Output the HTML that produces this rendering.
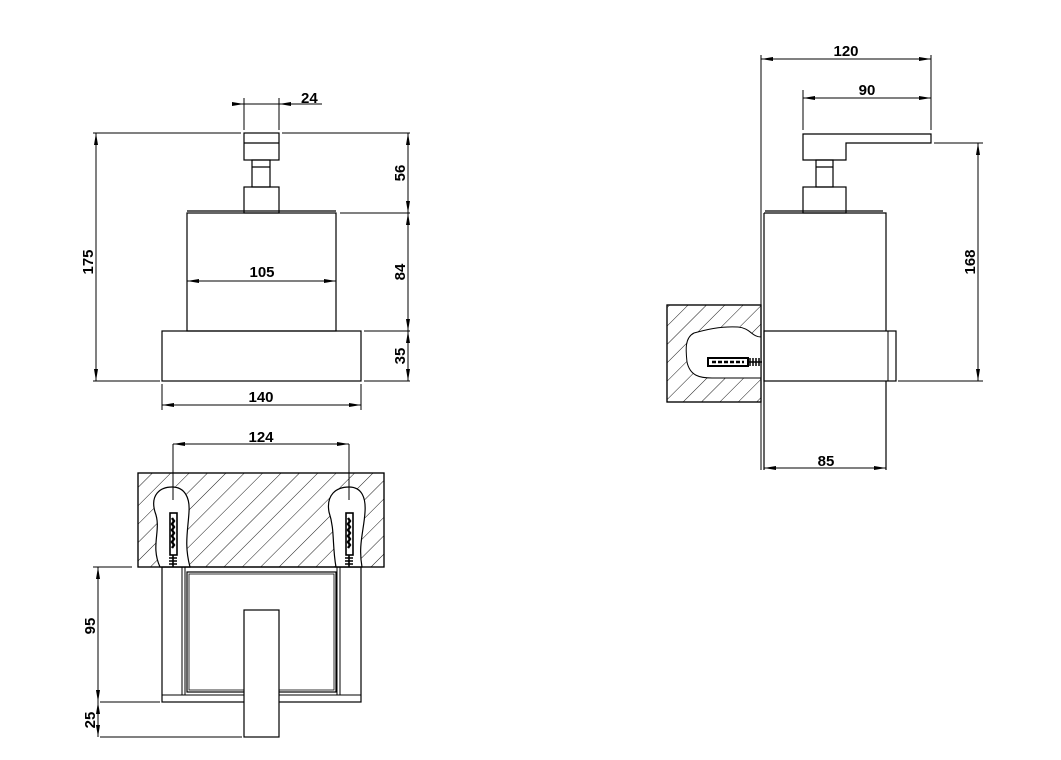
<!DOCTYPE html>
<html><head><meta charset="utf-8"><style>
html,body{margin:0;padding:0;background:#fff;}
svg{display:block;}
text{font-family:"Liberation Sans",sans-serif;font-weight:bold;font-size:15px;fill:#000;}
</style></head><body>
<svg width="1061" height="760" viewBox="0 0 1061 760" xmlns="http://www.w3.org/2000/svg">
<defs>
<marker id="a" viewBox="0 0 12 4" refX="12" refY="2" markerWidth="12" markerHeight="4" markerUnits="userSpaceOnUse" orient="auto-start-reverse">
<path d="M0,0 L12,2 L0,4 z" fill="#000"/></marker>
<pattern id="h" patternUnits="userSpaceOnUse" width="13" height="13" patternTransform="rotate(45)">
<line x1="0" y1="0" x2="0" y2="13" stroke="#000" stroke-width="0.9"/></pattern>
</defs>
<g fill="none" stroke="#000" stroke-width="1.2">
<!-- FRONT VIEW -->
<line x1="234" y1="104" x2="322" y2="104" stroke-width="1"/>
<line x1="232" y1="104" x2="244" y2="104" stroke-width="1" marker-end="url(#a)"/>
<line x1="291" y1="104" x2="279" y2="104" stroke-width="1" marker-end="url(#a)"/>
<line x1="244" y1="98" x2="244" y2="130" stroke-width="1"/>
<line x1="279" y1="98" x2="279" y2="130" stroke-width="1"/>
<line x1="93" y1="133" x2="241" y2="133" stroke-width="1"/>
<line x1="282" y1="133" x2="410" y2="133" stroke-width="1"/>
<rect x="244" y="133" width="35" height="27"/>
<line x1="244" y1="143" x2="279" y2="143"/>
<rect x="252" y="160" width="18" height="27"/>
<line x1="252" y1="167" x2="270" y2="167"/>
<rect x="244" y="187" width="35" height="26"/>
<line x1="187" y1="211" x2="336" y2="211"/>
<rect x="187" y="213" width="149" height="118"/>
<rect x="162" y="331" width="199" height="50"/>
<line x1="93" y1="381" x2="160" y2="381" stroke-width="1"/>
<line x1="364" y1="381" x2="410" y2="381" stroke-width="1"/>
<line x1="340" y1="213" x2="410" y2="213" stroke-width="1"/>
<line x1="364" y1="331" x2="410" y2="331" stroke-width="1"/>
<line x1="96" y1="133" x2="96" y2="381" stroke-width="1" marker-start="url(#a)" marker-end="url(#a)"/>
<line x1="408" y1="133" x2="408" y2="213" stroke-width="1" marker-start="url(#a)" marker-end="url(#a)"/>
<line x1="408" y1="213" x2="408" y2="331" stroke-width="1" marker-start="url(#a)" marker-end="url(#a)"/>
<line x1="408" y1="331" x2="408" y2="381" stroke-width="1" marker-start="url(#a)" marker-end="url(#a)"/>
<line x1="187" y1="281" x2="336" y2="281" stroke-width="1" marker-start="url(#a)" marker-end="url(#a)"/>
<line x1="162" y1="405" x2="361" y2="405" stroke-width="1" marker-start="url(#a)" marker-end="url(#a)"/>
<line x1="162" y1="384" x2="162" y2="410" stroke-width="1"/>
<line x1="361" y1="384" x2="361" y2="410" stroke-width="1"/>

<!-- PLAN VIEW -->
<rect x="138" y="473" width="246" height="94" fill="url(#h)"/>
<path d="M160,567 C150,545 162,530 155,512 C150,495 160,487 172,487 C185,487 190,498 189,512 C188,530 184,545 190,567 Z" fill="#fff"/>
<path d="M336,567 C332,545 335,530 329,512 C326,495 336,487 349,487 C362,487 366,498 365,512 C364,530 358,545 362,567 Z" fill="#fff"/>
<rect x="138" y="473" width="246" height="94"/>
<g stroke-width="1.6">
<rect x="170" y="513" width="7" height="42"/>
<path d="M173,555 L173,567 M169,558 L177,558 M169,561 L177,561 M169,564 L177,564"/>
<rect x="346" y="513" width="7" height="42"/>
<path d="M349,555 L349,567 M345,558 L353,558 M345,561 L353,561 M345,564 L353,564"/>
</g>
<path d="M172,518 l2,3 l-2,3 l2,3 l-2,3 l2,3 l-2,3 l2,3 l-2,3 l2,3 l-2,3 M348,518 l2,3 l-2,3 l2,3 l-2,3 l2,3 l-2,3 l2,3 l-2,3 l2,3 l-2,3" stroke-width="2.4"/>
<line x1="173" y1="444" x2="173" y2="500" stroke-width="1"/>
<line x1="349" y1="444" x2="349" y2="500" stroke-width="1"/>
<line x1="173" y1="444" x2="349" y2="444" stroke-width="1" marker-start="url(#a)" marker-end="url(#a)"/>
<rect x="162" y="567" width="199" height="135"/>
<line x1="162" y1="695" x2="361" y2="695" stroke-width="1"/>
<line x1="182" y1="567" x2="182" y2="695" stroke-width="1"/>
<line x1="185" y1="567" x2="185" y2="695" stroke-width="1"/>
<line x1="337" y1="567" x2="337" y2="695" stroke-width="1"/>
<line x1="340" y1="567" x2="340" y2="695" stroke-width="1"/>
<rect x="187" y="572" width="149" height="120"/>
<rect x="189" y="574" width="145" height="116" stroke-width="0.8"/>
<rect x="244" y="610" width="35" height="127" fill="#fff"/>
<line x1="93" y1="567" x2="132" y2="567" stroke-width="1"/>
<line x1="100" y1="702" x2="160" y2="702" stroke-width="1"/>
<line x1="100" y1="737" x2="242" y2="737" stroke-width="1"/>
<line x1="98" y1="567" x2="98" y2="702" stroke-width="1" marker-start="url(#a)" marker-end="url(#a)"/>
<line x1="98" y1="702" x2="98" y2="737" stroke-width="1" marker-start="url(#a)" marker-end="url(#a)"/>

<!-- SIDE VIEW -->
<rect x="667" y="305" width="94" height="97" fill="url(#h)"/>
<path d="M761,337 C752,337 750,328 738,327 C720,326 705,330 694,333 C684,338 686,352 687,362 C690,376 700,378 712,378 L761,378 Z" fill="#fff" stroke-width="1"/>
<rect x="667" y="305" width="94" height="97"/>
<rect x="708" y="358" width="40" height="8" stroke-width="2"/>
<path d="M712,362 L744,362" stroke-width="2.5" stroke-dasharray="4,2"/>
<path d="M748,362 L762,362 M750,358 L750,366 M753,358 L753,366 M756,358 L756,366 M759,358 L759,366" stroke-width="1.5"/>
<line x1="761" y1="55" x2="761" y2="470" stroke-width="1"/>
<line x1="931" y1="55" x2="931" y2="130" stroke-width="1"/>
<line x1="803" y1="90" x2="803" y2="130" stroke-width="1"/>
<line x1="761" y1="59" x2="931" y2="59" stroke-width="1" marker-start="url(#a)" marker-end="url(#a)"/>
<line x1="803" y1="98" x2="931" y2="98" stroke-width="1" marker-start="url(#a)" marker-end="url(#a)"/>
<path d="M803,134 L931,134 L931,143 L846,143 L846,160 L803,160 Z"/>
<rect x="816" y="160" width="17" height="27"/>
<line x1="816" y1="167" x2="833" y2="167"/>
<rect x="803" y="187" width="43" height="26"/>
<line x1="765" y1="211" x2="883" y2="211"/>
<path d="M764,213 L886,213 L886,331 M764,213 L764,470 M886,381 L886,470" />
<rect x="764" y="331" width="132" height="50"/>
<line x1="888" y1="331" x2="888" y2="381" stroke-width="1"/>
<line x1="764" y1="468" x2="886" y2="468" stroke-width="1" marker-start="url(#a)" marker-end="url(#a)"/>
<line x1="934" y1="143" x2="983" y2="143" stroke-width="1"/>
<line x1="898" y1="381" x2="983" y2="381" stroke-width="1"/>
<line x1="978" y1="143" x2="978" y2="381" stroke-width="1" marker-start="url(#a)" marker-end="url(#a)"/>
</g>
<!-- labels -->
<text x="301" y="103">24</text>
<text x="262" y="277" text-anchor="middle">105</text>
<text x="261" y="402" text-anchor="middle">140</text>
<text transform="translate(93,262) rotate(-90)" text-anchor="middle">175</text>
<text transform="translate(405,173) rotate(-90)" text-anchor="middle">56</text>
<text transform="translate(405,272) rotate(-90)" text-anchor="middle">84</text>
<text transform="translate(405,356) rotate(-90)" text-anchor="middle">35</text>
<text x="261" y="442" text-anchor="middle">124</text>
<text transform="translate(95,626) rotate(-90)" text-anchor="middle">95</text>
<text transform="translate(95,720) rotate(-90)" text-anchor="middle">25</text>
<text x="846" y="56" text-anchor="middle">120</text>
<text x="867" y="95" text-anchor="middle">90</text>
<text transform="translate(975,262) rotate(-90)" text-anchor="middle">168</text>
<text x="826" y="466" text-anchor="middle">85</text>
</svg>
</body></html>
